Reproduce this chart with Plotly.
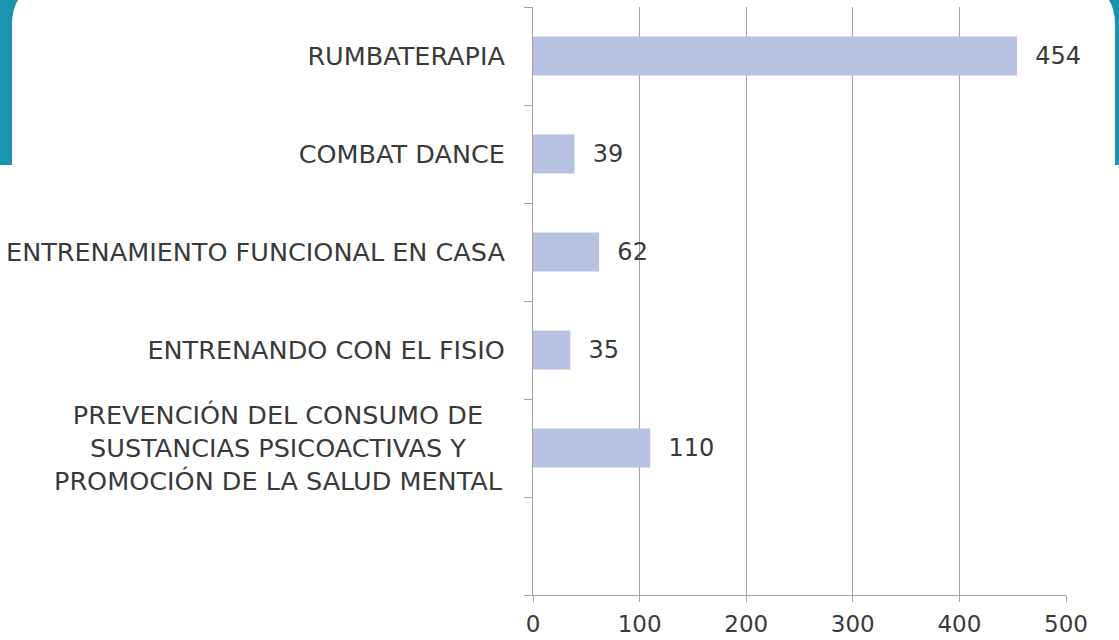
import plotly.graph_objects as go

categories = [
    "RUMBATERAPIA",
    "COMBAT DANCE",
    "ENTRENAMIENTO FUNCIONAL EN CASA",
    "ENTRENANDO CON EL FISIO",
    "PREVENCIÓN DEL CONSUMO DE<br>SUSTANCIAS PSICOACTIVAS Y<br>PROMOCIÓN DE LA SALUD MENTAL",
    " ",
]
values = [454, 39, 62, 35, 110, None]
x_ticks = [0, 100, 200, 300, 400, 500]

W, H = 1119, 640
L, R, T, B = 533, 1066, 7, 595
FONT = "DejaVu Sans"
TXT = "#3a3a3a"
GRID = "#a4a4a4"
TEAL = "#1993ae"
CAT_SIZE = 25.5
NUM_SIZE = 23


def fx(px):
    return (px - L) / (R - L)


def fy(py):
    return (B - py) / (B - T)


# tick labels: multi-line label drawn as centered annotation
ticktext = [c if "<br>" not in c else "" for c in categories]

fig = go.Figure(
    go.Bar(
        y=categories,
        x=values,
        orientation="h",
        width=0.4,
        marker=dict(color="#b7c2e1", line=dict(width=0)),
        text=[("\u00a0\u00a0" + str(v)) if v is not None else "" for v in values],
        textposition="outside",
        textfont=dict(family=FONT, size=24, color=TXT),
        cliponaxis=False,
        hoverinfo="skip",
    )
)

for c in categories:
    if "<br>" in c:
        fig.add_annotation(
            x=0, xref="paper", y=c, yref="y",
            text=c, showarrow=False, xanchor="right", yanchor="middle",
            xshift=-28, align="center",
            font=dict(family=FONT, size=CAT_SIZE, color=TXT),
        )

# decorative teal frame
teal_path = (
    f"M {fx(0)},{fy(0)} L {fx(W)},{fy(0)} L {fx(W)},{fy(165)} L {fx(0)},{fy(165)} Z"
)
white_path = (
    f"M {fx(12)},{fy(700)} L {fx(12)},{fy(25)} "
    f"Q {fx(12)},{fy(-15)} {fx(52)},{fy(-15)} "
    f"L {fx(1075)},{fy(-15)} "
    f"Q {fx(1115)},{fy(-15)} {fx(1115)},{fy(25)} "
    f"L {fx(1115)},{fy(700)} Z"
)
fig.add_shape(type="path", path=teal_path, xref="paper", yref="paper",
              fillcolor=TEAL, line=dict(width=0), layer="below")
fig.add_shape(type="path", path=white_path, xref="paper", yref="paper",
              fillcolor="white", line=dict(width=0), layer="below")

fig.update_layout(
    width=W, height=H,
    margin=dict(l=L, r=W - R, t=T, b=H - B, pad=0, autoexpand=False),
    paper_bgcolor="white",
    plot_bgcolor="rgba(0,0,0,0)",
    showlegend=False,
    font=dict(family=FONT, size=NUM_SIZE, color=TXT),
    xaxis=dict(
        range=[0, 500], tickvals=x_ticks, ticktext=[str(v) for v in x_ticks],
        showgrid=True, gridcolor=GRID, gridwidth=1,
        showline=True, linecolor=GRID, linewidth=1,
        ticks="outside", ticklen=6, tickcolor=GRID,
        zeroline=False, fixedrange=True, automargin=False,
        ticklabelstandoff=2,
        tickfont=dict(family=FONT, size=NUM_SIZE, color=TXT),
    ),
    yaxis=dict(
        type="category", categoryorder="array", categoryarray=categories,
        autorange="reversed",
        tickvals=categories, ticktext=ticktext,
        tickson="boundaries", ticks="outside", ticklen=8, tickcolor=GRID,
        showline=True, linecolor=GRID, linewidth=1,
        showgrid=False, zeroline=False, fixedrange=True, automargin=False,
        ticklabelstandoff=22,
        tickfont=dict(family=FONT, size=CAT_SIZE, color=TXT),
    ),
)

fig.write_html(
    "out.html",
    config={"displayModeBar": False},
    post_script="document.body.style.margin='0';document.body.style.overflow='hidden';",
)
